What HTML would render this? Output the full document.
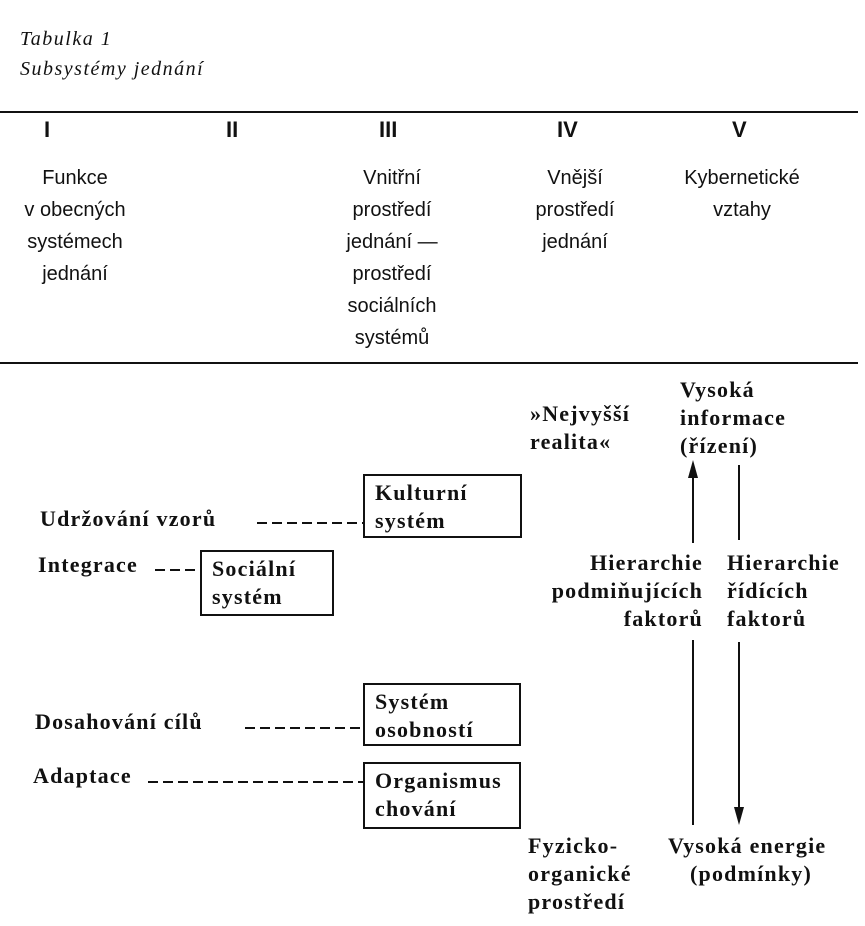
<!DOCTYPE html>
<html><head><meta charset="utf-8"><style>
body{margin:0;background:#fff;width:865px;height:926px;position:relative;overflow:hidden;color:#111}
.t{position:absolute;white-space:nowrap}
.it{font-family:"Liberation Serif",serif;font-style:italic;font-size:20px;letter-spacing:1.5px}
.h{font-family:"Liberation Sans",sans-serif;font-weight:bold;font-size:22px}
.s{font-family:"Liberation Sans",sans-serif;font-size:20px;line-height:32px;text-align:center}
.b{font-family:"Liberation Serif",serif;font-weight:bold;font-size:22px;line-height:28px;letter-spacing:1.2px}
.box{position:absolute;border:2px solid #111;box-sizing:border-box;padding:3px 0 0 10px}
.hl{position:absolute;left:0;width:858px;height:2px;background:#111}
</style></head><body>
<div class="t it" style="left:20px;top:28px">Tabulka 1</div>
<div class="t it" style="left:20px;top:58px">Subsystémy jednání</div>
<div class="hl" style="top:111px"></div>
<div class="t h" style="left:44px;top:117px">I</div>
<div class="t h" style="left:226px;top:117px">II</div>
<div class="t h" style="left:379px;top:117px">III</div>
<div class="t h" style="left:557px;top:117px">IV</div>
<div class="t h" style="left:732px;top:117px">V</div>
<div class="t s" style="left:0;width:150px;top:162px">Funkce<br>v obecných<br>systémech<br>jednání</div>
<div class="t s" style="left:317px;width:150px;top:162px">Vnitřní<br>prostředí<br>jednání —<br>prostředí<br>sociálních<br>systémů</div>
<div class="t s" style="left:500px;width:150px;top:162px">Vnější<br>prostředí<br>jednání</div>
<div class="t s" style="left:662px;width:160px;top:162px">Kybernetické<br>vztahy</div>
<div class="hl" style="top:362px"></div>

<div class="t b" style="left:530px;top:400px">»Nejvyšší<br>realita«</div>
<div class="t b" style="left:680px;top:376px">Vysoká<br>informace<br>(řízení)</div>

<div class="box b" style="left:363px;top:474px;width:159px;height:64px">Kulturní<br>systém</div>
<div class="t b" style="left:40px;top:505px">Udržování vzorů</div>
<div class="t b" style="left:38px;top:551px">Integrace</div>
<div class="box b" style="left:200px;top:550px;width:134px;height:66px">Sociální<br>systém</div>
<div class="box b" style="left:363px;top:683px;width:158px;height:63px">Systém<br>osobností</div>
<div class="t b" style="left:35px;top:708px">Dosahování cílů</div>
<div class="t b" style="left:33px;top:762px">Adaptace</div>
<div class="box b" style="left:363px;top:762px;width:158px;height:67px">Organismus<br>chování</div>

<div class="t b" style="left:502px;top:549px;width:201px;text-align:right">Hierarchie<br>podmiňujících<br>faktorů</div>
<div class="t b" style="left:727px;top:549px">Hierarchie<br>řídících<br>faktorů</div>

<div class="t b" style="left:528px;top:832px">Fyzicko-<br>organické<br>prostředí</div>
<div class="t b" style="left:668px;top:832px">Vysoká energie<br><span style="padding-left:22px">(podmínky)</span></div>

<svg width="865" height="926" style="position:absolute;left:0;top:0">
<g stroke="#111" stroke-width="2" stroke-dasharray="10,5" fill="none">
<line x1="257" y1="523" x2="363" y2="523"/>
<line x1="155" y1="570" x2="200" y2="570"/>
<line x1="245" y1="728" x2="363" y2="728"/>
<line x1="148" y1="782" x2="363" y2="782"/>
</g>
<g stroke="#111" stroke-width="2">
<line x1="693" y1="470" x2="693" y2="543"/>
<line x1="693" y1="640" x2="693" y2="825"/>
<line x1="739" y1="465" x2="739" y2="540"/>
<line x1="739" y1="642" x2="739" y2="812"/>
</g>
<polygon points="693,460 688,478 698,478" fill="#111"/>
<polygon points="739,825 734,807 744,807" fill="#111"/>
</svg>
</body></html>
